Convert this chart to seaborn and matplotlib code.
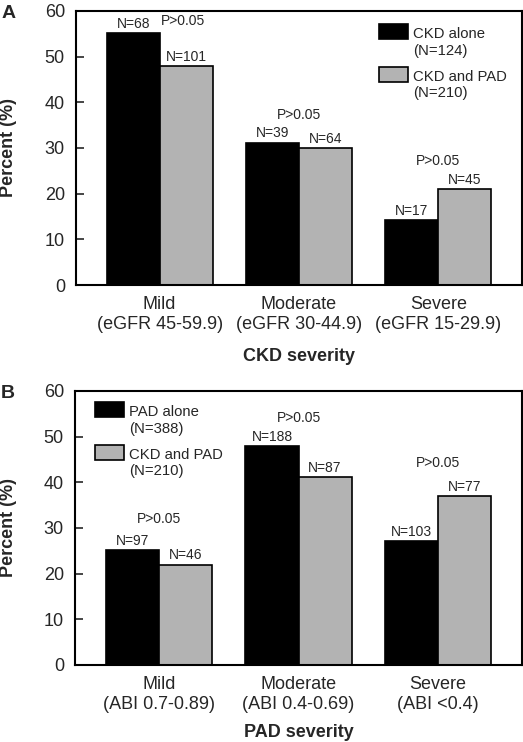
import pandas as pd
import matplotlib
matplotlib.use("Agg")
import matplotlib.pyplot as plt
from matplotlib.patches import Rectangle
from matplotlib.legend_handler import HandlerPatch
import seaborn as sns

# ========== DATA ==========
ckd_cats = ["Mild\n(eGFR 45-59.9)", "Moderate\n(eGFR 30-44.9)", "Severe\n(eGFR 15-29.9)"]
ckd_groups = ["CKD alone\n(N=124)", "CKD and PAD\n(N=210)"]
ckd_alone = [55.1, 31.2, 14.3]
ckd_pad_a = [48.0, 29.9, 21.0]
ckd_alone_n = ["N=68", "N=39", "N=17"]
ckd_pad_n_a = ["N=101", "N=64", "N=45"]

pad_cats = ["Mild\n(ABI 0.7-0.89)", "Moderate\n(ABI 0.4-0.69)", "Severe\n(ABI <0.4)"]
pad_groups = ["PAD alone\n(N=388)", "CKD and PAD\n(N=210)"]
pad_alone = [25.1, 48.0, 27.2]
ckd_pad_b = [22.0, 41.1, 36.9]
pad_alone_n = ["N=97", "N=188", "N=103"]
ckd_pad_n_b = ["N=46", "N=87", "N=77"]

p_text = "P>0.05"

# P-value label placement (x offset from category, y in percent)
p_pos_a = [(0.17, 57.7), (0.0, 37.2), (0.0, 27.2)]
p_pos_b = [(0.0, 31.9), (0.0, 54.0), (0.0, 44.2)]

# ========== STYLE ==========
sns.set_style("white")
plt.rcParams["font.family"] = ["Liberation Sans", "DejaVu Sans"]
colors = ["black", "#b3b3b3"]

fig = plt.figure(figsize=(5.23, 7.42), dpi=100)
ax_a = fig.add_axes([0.1453, 0.6159, 0.8528, 0.3693])
ax_b = fig.add_axes([0.1434, 0.1038, 0.8547, 0.3693])


def raised_patch(legend, orig_handle, xdescent, ydescent, width, height, fontsize):
    # line the swatch up with the first line of a two-line label
    return Rectangle((-xdescent, -ydescent + 8.3), width, height)


def panel(ax, cats, groups, v1, v2, n1, n2, p_pos, xlabel, legend_anchor,
          xlab_y, ylab_x):
    df = pd.DataFrame({
        "cat": cats * 2,
        "group": [groups[0]] * 3 + [groups[1]] * 3,
        "val": v1 + v2,
    })
    sns.barplot(data=df, x="cat", y="val", hue="group", palette=colors,
                width=0.76, edgecolor="black", linewidth=1.2, ax=ax,
                errorbar=None, saturation=1)
    for cont, labs in zip(ax.containers, [n1, n2]):
        ax.bar_label(cont, labels=labs, padding=1.5, fontsize=10)
    for i, (dx, y) in enumerate(p_pos):
        ax.text(i + dx, y, p_text, ha="center", va="center", fontsize=10)
    ax.set_xlim(-0.6, 2.6)
    ax.set_ylim(0, 60)
    ax.set_yticks(range(0, 61, 10))
    ax.tick_params(axis="y", direction="in", length=6, width=1.2,
                   labelsize=13, pad=8, left=True)
    ax.tick_params(axis="x", length=0, labelsize=13, pad=8)
    for s in ax.spines.values():
        s.set_linewidth(1.5)
        s.set_color("black")
    ax.set_xlabel(xlabel, fontsize=13, fontweight="bold")
    ax.set_ylabel("Percent (%)", fontsize=13, fontweight="bold")
    ax.xaxis.set_label_coords(0.5, xlab_y)
    ax.yaxis.set_label_coords(ylab_x, 0.5)
    handles, labels = ax.get_legend_handles_labels()
    ax.legend(handles, labels, loc="upper left", bbox_to_anchor=legend_anchor,
              frameon=False, fontsize=10.7, handlelength=1.95,
              handleheight=1.2, labelspacing=0.84, borderpad=0,
              borderaxespad=0, handletextpad=0.35,
              handler_map={h: HandlerPatch(patch_func=raised_patch) for h in handles})


panel(ax_a, ckd_cats, ckd_groups, ckd_alone, ckd_pad_a, ckd_alone_n,
      ckd_pad_n_a, p_pos_a, "CKD severity", (0.679, 0.94), -0.23, -0.132)
panel(ax_b, pad_cats, pad_groups, pad_alone, ckd_pad_b, pad_alone_n,
      ckd_pad_n_b, p_pos_b, "PAD severity", (0.045, 0.947), -0.215, -0.130)

fig.text(0.002, 0.993, "A", fontsize=14, fontweight="bold", va="top")
fig.text(0.002, 0.481, "B", fontsize=14, fontweight="bold", va="top")

fig.savefig("out.png", dpi=100)
